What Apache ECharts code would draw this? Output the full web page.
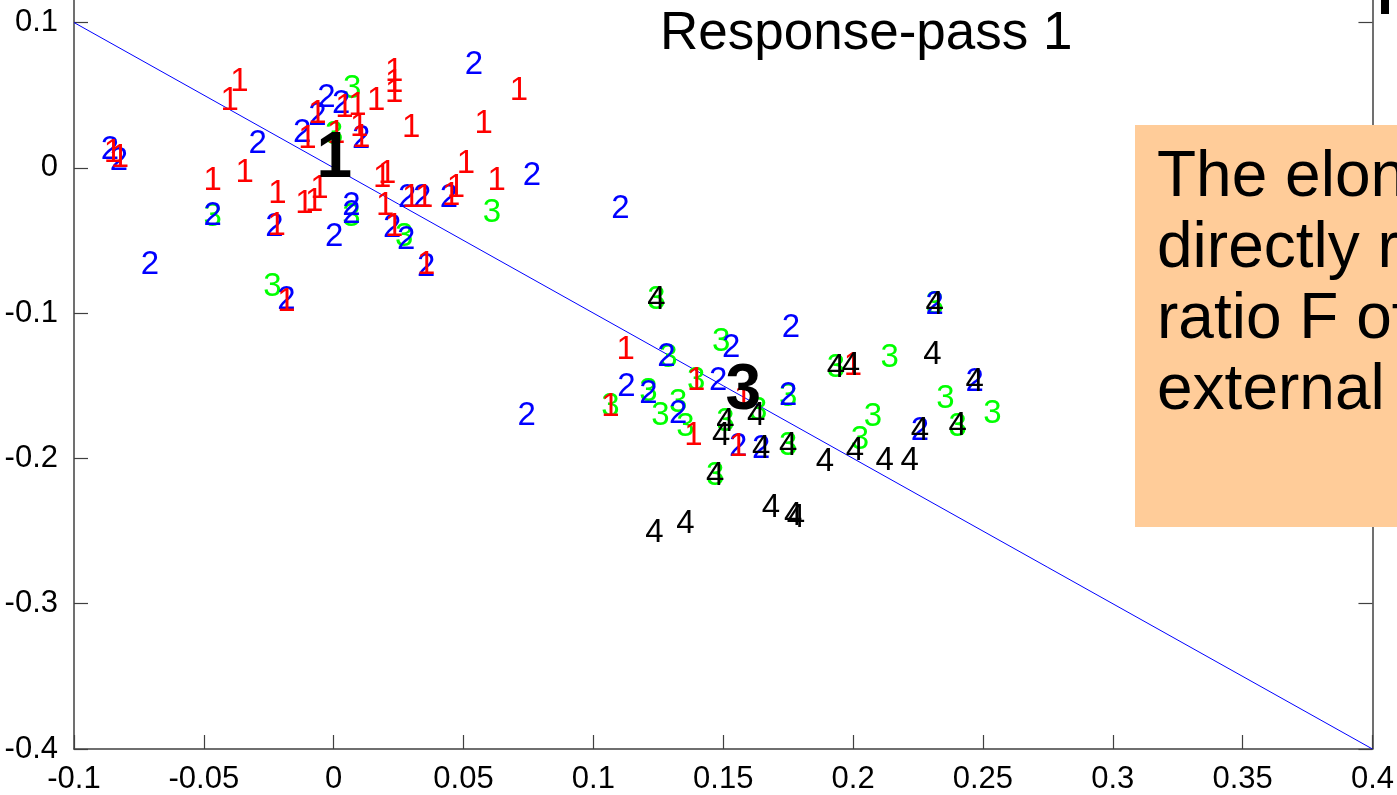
<!DOCTYPE html>
<html><head><meta charset="utf-8">
<script src="https://cdn.jsdelivr.net/npm/echarts@6/dist/echarts.min.js"></script>
<style>html,body{margin:0;padding:0;background:#fff;overflow:hidden}#c{width:1397px;height:795px}</style>
</head><body><div id="c"></div>
<script>
// ---- data (x, y) per response class ----
const class1 = [[-0.0850,0.0116],[-0.0823,0.0082],[-0.0363,0.0608],[-0.0401,0.0472],[-0.0466,-0.0075],[-0.0343,-0.0021],[-0.0217,-0.0164],[-0.0113,-0.0232],[-0.0075,-0.0219],[-0.0055,-0.0130],[-0.0220,-0.0383],[-0.0182,-0.0909],[-0.0063,0.0383],[-0.0101,0.0212],[0.0233,0.0677],[0.0233,0.0595],[0.0233,0.0526],[0.0041,0.0424],[0.0091,0.0437],[0.0164,0.0472],[0.0298,0.0287],[0.0578,0.0314],[0.0713,0.0540],[0.0010,0.0246],[0.0106,0.0219],[0.0098,0.0294],[0.0187,-0.0055],[0.0206,-0.0027],[0.0509,0.0041],[0.0628,-0.0075],[0.0471,-0.0123],[0.0298,-0.0191],[0.0348,-0.0191],[0.0452,-0.0178],[0.0198,-0.0246],[0.0233,-0.0396],[0.0356,-0.0656],[0.1124,-0.1237],[0.1396,-0.1456],[0.1066,-0.1634],[0.1385,-0.1832],[0.1558,-0.1907],[0.1999,-0.1353],[0.1577,-0.1579]];
const class2 = [[-0.0862,0.0137],[-0.0827,0.0062],[-0.0293,0.0178],[-0.0708,-0.0656],[-0.0466,-0.0314],[-0.0228,-0.0396],[-0.0182,-0.0895],[-0.0028,0.0492],[0.0029,0.0451],[-0.0063,0.0369],[-0.0121,0.0253],[0.0106,0.0212],[0.0068,-0.0246],[0.0068,-0.0301],[0.0002,-0.0465],[0.0225,-0.0403],[0.0279,-0.0485],[0.0283,-0.0191],[0.0341,-0.0191],[0.0444,-0.0191],[0.0356,-0.0670],[0.0540,0.0725],[0.0763,-0.0041],[0.1104,-0.0267],[0.0743,-0.1695],[0.1281,-0.1285],[0.1531,-0.1224],[0.1761,-0.1087],[0.1481,-0.1456],[0.1127,-0.1497],[0.1212,-0.1545],[0.1327,-0.1682],[0.1558,-0.1907],[0.1646,-0.1921],[0.1750,-0.1558],[0.2314,-0.0930],[0.2468,-0.1463],[0.2257,-0.1798]];
const class3 = [[-0.0466,-0.0321],[-0.0236,-0.0807],[0.0071,0.0554],[0.0002,0.0239],[0.0068,-0.0321],[0.0271,-0.0465],[0.0609,-0.0294],[0.1243,-0.0895],[0.1289,-0.1292],[0.1492,-0.1182],[0.1396,-0.1456],[0.1066,-0.1634],[0.1212,-0.1531],[0.1258,-0.1695],[0.1327,-0.1606],[0.1354,-0.1770],[0.1508,-0.1736],[0.1635,-0.1661],[0.1750,-0.1565],[0.1750,-0.1900],[0.1469,-0.2105],[0.1934,-0.1360],[0.2141,-0.1292],[0.2314,-0.0930],[0.2356,-0.1579],[0.2537,-0.1682],[0.2403,-0.1770],[0.2076,-0.1702],[0.2026,-0.1859]];
const class4 = [[0.1243,-0.0895],[0.1492,-0.1832],[0.1508,-0.1736],[0.1627,-0.1695],[0.1646,-0.1921],[0.1750,-0.1900],[0.1469,-0.2105],[0.1684,-0.2324],[0.1769,-0.2385],[0.1780,-0.2399],[0.1354,-0.2440],[0.1235,-0.2502],[0.1934,-0.1360],[0.1992,-0.1353],[0.2306,-0.1271],[0.2314,-0.0930],[0.2468,-0.1463],[0.2403,-0.1763],[0.2257,-0.1798],[0.2007,-0.1934],[0.1892,-0.2010],[0.2122,-0.2003],[0.2218,-0.2003]];
const classNames = ['1','2','3','4'];
const lineX = [-0.1, 0.4];
const lineY = [0.1, -0.4];
const clusterNames = ['1','3'];
const clusterX = [0.0002, 0.1577];
const clusterY = [0.0060, -0.1538];
const yTicks = [-0.4, -0.3, -0.2, -0.1, 0, 0.1];
const titleText = 'Response-pass 1';
const noteLines = ['The elon', 'directly r', 'ratio F of', 'external'];

const classColors = ['#ff0000','#0000ff','#00ff00','#000000'];
const classData = [class1, class2, class3, class4];
const drawOrder = [2, 1, 0, 3];
const font = "'Liberation Sans',Arial,sans-serif";
const axisColor = '#404040';

const chart = echarts.init(document.getElementById('c'), null, {renderer: 'canvas'});
const series = [{
  type: 'line', data: lineX.map((x, i) => [x, lineY[i]]), symbol: 'none',
  lineStyle: {color: '#0000ff', width: 1}, silent: true, z: 1
}];
drawOrder.forEach((k, idx) => {
  series.push({
    type: 'scatter', data: classData[k], symbol: 'circle', symbolSize: 1,
    itemStyle: {color: 'rgba(0,0,0,0)', opacity: 1}, z: 2 + idx, silent: true,
    label: {show: true, position: 'inside', offset: [0, 2], formatter: classNames[k], color: classColors[k],
      opacity: 1, fontSize: 33, fontFamily: font}
  });
});
series.push({
  type: 'scatter', data: clusterX.map((x, i) => [x, clusterY[i], clusterNames[i]]),
  symbol: 'circle', symbolSize: 1, itemStyle: {color: 'rgba(0,0,0,0)', opacity: 1}, z: 10, silent: true,
  label: {show: true, position: 'inside', formatter: p => p.data[2], color: '#000', opacity: 1,
    fontSize: 64, fontWeight: 'bold', fontFamily: font}
});

const yAxisBase = {
  type: 'value', min: -0.4, max: 0.1155,
  axisLine: {show: true, onZero: false, lineStyle: {color: axisColor, width: 1.5}},
  axisTick: {show: true, inside: true, length: 14, customValues: yTicks, lineStyle: {color: axisColor, width: 1.2}},
  splitLine: {show: false}
};

chart.setOption({
  animation: false,
  backgroundColor: '#ffffff',
  grid: {left: 74, right: 21, top: 0, bottom: 41, containLabel: false},
  xAxis: {
    type: 'value', min: -0.1, max: 0.4, interval: 0.05,
    axisLine: {show: true, onZero: false, lineStyle: {color: axisColor, width: 1.5}},
    axisTick: {show: true, inside: true, length: 14, lineStyle: {color: axisColor, width: 1.2}},
    axisLabel: {margin: 15, color: '#000', fontSize: 31, fontFamily: font},
    splitLine: {show: false}
  },
  yAxis: [
    Object.assign({}, yAxisBase, {position: 'left',
      axisLabel: {margin: 16, color: '#000', fontSize: 31, fontFamily: font, customValues: yTicks}}),
    Object.assign({}, yAxisBase, {position: 'right', axisLabel: {show: false}})
  ],
  series: series,
  graphic: [
    {type: 'text', left: 660, top: 8, z: 20,
      style: {text: titleText, fontSize: 53, fontFamily: font, fill: '#000'}},
    {type: 'rect', shape: {x: 1135, y: 125, width: 300, height: 402}, z: 20,
      style: {fill: '#ffcc99'}},
    {type: 'text', x: 1157, y: 143, z: 21,
      style: {text: noteLines.join('\n'), fontSize: 64, lineHeight: 71, fontFamily: font, fill: '#000'}},
    {type: 'rect', shape: {x: 1381, y: 0, width: 8, height: 14}, z: 20, style: {fill: '#000'}}
  ]
});
</script></body></html>
